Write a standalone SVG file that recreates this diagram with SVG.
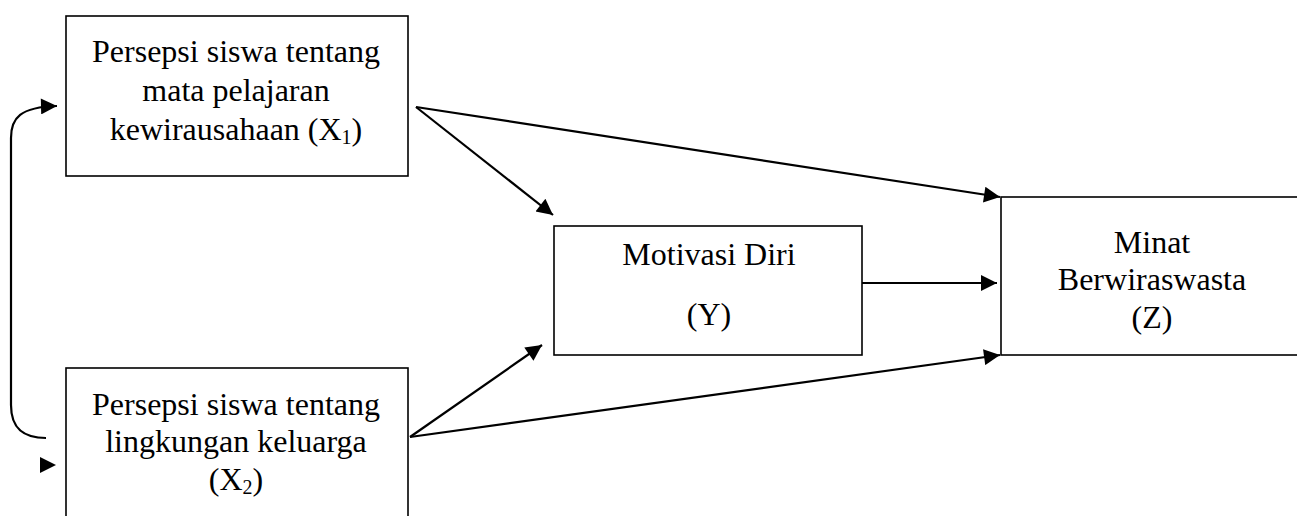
<svg xmlns="http://www.w3.org/2000/svg" width="1297" height="516" viewBox="0 0 1297 516">
<defs>
<marker id="ah2" viewBox="0 0 10 10" refX="10" refY="5" markerWidth="20" markerHeight="16" markerUnits="userSpaceOnUse" orient="auto">
<path d="M0,0 L10,5 L0,10 z" fill="#000"/>
</marker>
</defs>
<style>
.box{fill:#fff;stroke:#000;stroke-width:1.6}
.t{font-family:"Liberation Serif","Times New Roman",serif;font-size:32px;fill:#000;text-anchor:middle}
.c{fill:none;stroke:#000;stroke-width:2.2;marker-end:url(#ah2)}
.sub{font-size:20px}
</style>
<rect width="1297" height="516" fill="#fff"/>
<g id="x1">
<rect class="box" x="66" y="16" width="342" height="160"/>
<text class="t" x="236" y="62">Persepsi siswa tentang</text>
<text class="t" x="236" y="101">mata pelajaran</text>
<text class="t" x="236" y="140">kewirausahaan (X<tspan class="sub" dy="4">1</tspan><tspan dy="-4">)</tspan></text>
</g>
<g id="x2">
<rect class="box" x="66" y="368" width="342" height="160"/>
<text class="t" x="236" y="415">Persepsi siswa tentang</text>
<text class="t" x="236" y="452">lingkungan keluarga</text>
<text class="t" x="236" y="490">(X<tspan class="sub" dy="4">2</tspan><tspan dy="-4">)</tspan></text>
</g>
<g id="y">
<rect class="box" x="554" y="226" width="308" height="129"/>
<text class="t" x="709" y="265">Motivasi Diri</text>
<text class="t" x="709" y="325">(Y)</text>
</g>
<g id="z">
<rect class="box" x="1001" y="197" width="310" height="158"/>
<text class="t" x="1152" y="253">Minat</text>
<text class="t" x="1152" y="290">Berwiraswasta</text>
<text class="t" x="1152" y="328">(Z)</text>
</g>
<g id="connectors">
<path class="c" d="M416,107 L553,215"/>
<path class="c" d="M416,107 L1000,197"/>
<path class="c" d="M862,283 L997,283"/>
<path class="c" d="M410,437 L542,345"/>
<path class="c" d="M410,437 L1000,355"/>
<path class="c" d="M46,438 C25,438 11,430 11,405 L11,138 C11,118 20,107 57,106"/>
<path d="M40,457 L56,465 L40,473 z" fill="#000"/>
</g>
</svg>
